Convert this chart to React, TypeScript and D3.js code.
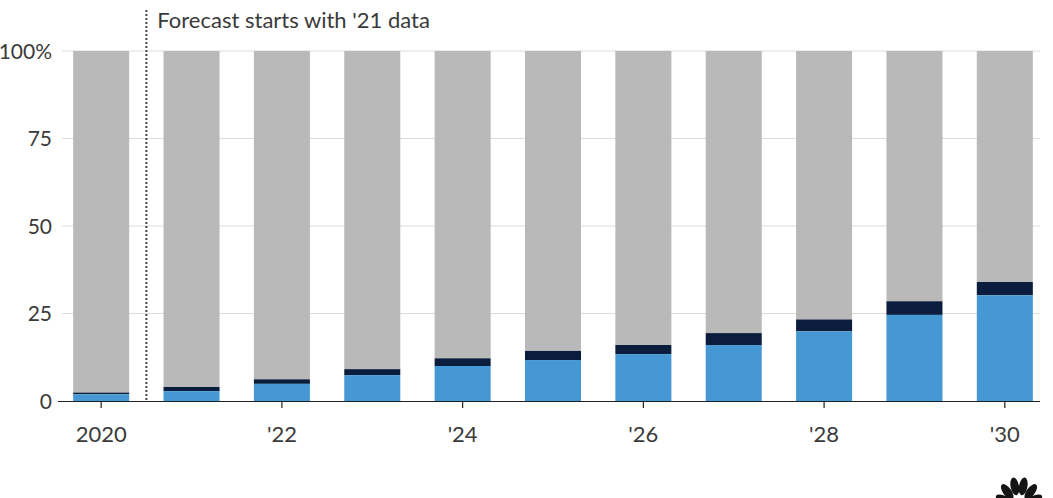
import { useRef, useEffect } from 'react';
import * as d3 from 'd3';

const YEARS = [2020, 2021, 2022, 2023, 2024, 2025, 2026, 2027, 2028, 2029, 2030];
// share of sales, percent
const BLUE = [1.9, 2.8, 4.9, 7.4, 10.0, 11.7, 13.4, 16.0, 19.9, 24.6, 30.2];
const NAVY = [0.5, 1.2, 1.3, 1.7, 2.2, 2.6, 2.6, 3.4, 3.4, 3.9, 3.8];
const Y_TICKS = [0, 25, 50, 75, 100];
const X_TICKS = [2020, 2022, 2024, 2026, 2028, 2030];
const NOTE = "Forecast starts with '21 data";

const WIDTH = 1053;
const HEIGHT = 498;
const FONT = 'Lato, "Open Sans", sans-serif';
const TEXT = '#3a3a3a';

export default function App() {
  const svgRef = useRef<SVGSVGElement | null>(null);

  useEffect(() => {
    if (!svgRef.current) return;
    const svg = d3.select(svgRef.current);
    svg.selectAll('*').remove();

    const x = d3.scaleBand<number>()
      .domain(YEARS)
      .range([56, 1050])
      .paddingInner(0.38)
      .paddingOuter(0.19);

    const y = d3.scaleLinear().domain([0, 100]).range([401, 51]);

    // gridlines
    svg.append('g')
      .selectAll('line')
      .data(Y_TICKS.filter(d => d > 0))
      .join('line')
      .attr('x1', 62)
      .attr('x2', 1040)
      .attr('y1', d => y(d))
      .attr('y2', d => y(d))
      .attr('stroke', '#dcdcdc')
      .attr('stroke-width', 1);

    // y labels
    svg.append('g')
      .selectAll('text')
      .data(Y_TICKS)
      .join('text')
      .attr('x', 52)
      .attr('y', d => y(d))
      .attr('dy', '0.36em')
      .attr('text-anchor', 'end')
      .attr('font-family', FONT)
      .attr('font-size', 21)
      .attr('fill', TEXT)
      .text(d => (d === 100 ? '100%' : String(d)));

    const stacked = YEARS.map((year, i) => ({
      year,
      blue: BLUE[i],
      navy: NAVY[i],
    }));

    const bars = svg.append('g');
    const bw = x.bandwidth();

    // gray remainder up to 100%
    bars.selectAll('.rest')
      .data(stacked)
      .join('rect')
      .attr('x', d => x(d.year)!)
      .attr('width', bw)
      .attr('y', y(100))
      .attr('height', d => y(d.blue + d.navy) - y(100))
      .attr('fill', '#b9b9b9');

    bars.selectAll('.navy')
      .data(stacked)
      .join('rect')
      .attr('x', d => x(d.year)!)
      .attr('width', bw)
      .attr('y', d => y(d.blue + d.navy))
      .attr('height', d => y(d.blue) - y(d.blue + d.navy))
      .attr('fill', '#0b1d3c');

    bars.selectAll('.blue')
      .data(stacked)
      .join('rect')
      .attr('x', d => x(d.year)!)
      .attr('width', bw)
      .attr('y', d => y(d.blue))
      .attr('height', d => y(0) - y(d.blue))
      .attr('fill', '#4698d4');

    // x axis
    svg.append('line')
      .attr('x1', 58)
      .attr('x2', 1040)
      .attr('y1', y(0) + 0.5)
      .attr('y2', y(0) + 0.5)
      .attr('stroke', '#222')
      .attr('stroke-width', 1.2);

    const cx = (d: number) => x(d)! + bw / 2;

    svg.append('g')
      .selectAll('line')
      .data(X_TICKS)
      .join('line')
      .attr('x1', cx)
      .attr('x2', cx)
      .attr('y1', y(0))
      .attr('y2', y(0) + 7)
      .attr('stroke', '#222')
      .attr('stroke-width', 1.2);

    svg.append('g')
      .selectAll('text')
      .data(X_TICKS)
      .join('text')
      .attr('x', cx)
      .attr('y', 442)
      .attr('text-anchor', 'middle')
      .attr('font-family', FONT)
      .attr('font-size', 22)
      .attr('fill', TEXT)
      .text(d => (d === 2020 ? '2020' : `'${String(d).slice(2)}`));

    // forecast divider between 2020 and 2021
    const divX = (x(2020)! + bw + x(2021)!) / 2;
    svg.append('line')
      .attr('x1', divX)
      .attr('x2', divX)
      .attr('y1', 10)
      .attr('y2', y(0))
      .attr('stroke', '#444')
      .attr('stroke-width', 2)
      .attr('stroke-dasharray', '2 2');

    svg.append('text')
      .attr('x', divX + 11)
      .attr('y', 28)
      .attr('font-family', FONT)
      .attr('font-size', 22)
      .attr('fill', TEXT)
      .text(NOTE);

    // peacock mark, cut by the bottom edge
    const logo = svg.append('g').attr('transform', 'translate(1019,508)');
    const feathers = [
      { a: -62, r: 17 },
      { a: -36, r: 20 },
      { a: -11, r: 22 },
      { a: 11, r: 22 },
      { a: 36, r: 20 },
      { a: 62, r: 17 },
    ];
    feathers.forEach(f => {
      logo.append('ellipse')
        .attr('cx', 0)
        .attr('cy', -f.r)
        .attr('rx', 4.2)
        .attr('ry', 9)
        .attr('transform', `rotate(${f.a})`)
        .attr('fill', '#141414');
    });
  }, []);

  return (
    <div style={{ position: 'fixed', left: 0, top: 0, width: WIDTH, height: HEIGHT, background: '#fff' }}>
      <svg ref={svgRef} width={WIDTH} height={HEIGHT} />
    </div>
  );
}
